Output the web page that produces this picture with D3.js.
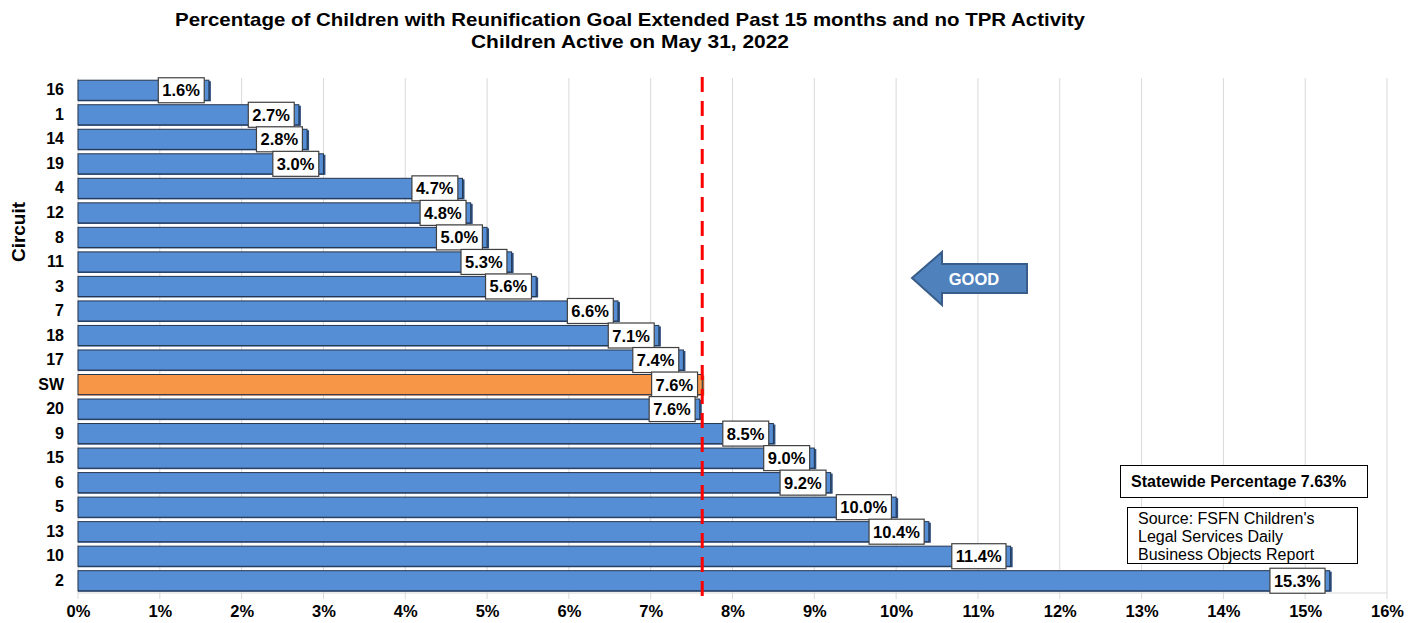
<!DOCTYPE html>
<html>
<head>
<meta charset="utf-8">
<script src="https://cdn.jsdelivr.net/npm/d3@7"></script>
<style>
  html, body { margin: 0; padding: 0; background: #fff; }
  svg { display: block; font-family: Arial, "Liberation Sans", sans-serif; }
</style>
</head>
<body>
<svg id="chart" width="1419" height="623"></svg>
<script>
// Circuits, top to bottom
const circuits = ["16", "1", "14", "19", "4", "12", "8", "11", "3", "7", "18", "17", "SW", "20", "9", "15", "6", "5", "13", "10", "2"];
// Percentage of children per circuit
const percents = [1.6, 2.7, 2.8, 3.0, 4.7, 4.8, 5.0, 5.3, 5.6, 6.6, 7.1, 7.4, 7.63, 7.6, 8.5, 9.0, 9.2, 10.0, 10.4, 11.4, 15.3];
const statewide = 7.63;
const xTicks = [0, 1, 2, 3, 4, 5, 6, 7, 8, 9, 10, 11, 12, 13, 14, 15, 16];
const titleLines = [
  "Percentage of Children with Reunification Goal Extended Past 15 months and no TPR Activity",
  "Children Active on May 31, 2022"
];
const titleWidths = [910, 318];
const sourceLines = ["Source: FSFN Children's", "Legal Services Daily", "Business Objects Report"];

const svg = d3.select("#chart");
const m = { left: 78, right: 1387, top: 78, bottom: 593 };

const x = d3.scaleLinear().domain([0, 16]).range([m.left, m.right]);
const y = d3.scaleBand().domain(circuits).range([m.top, m.bottom]).paddingInner(0.18).paddingOuter(0.09);

// Title (narrow, tightly set bold type)
svg.append("g").selectAll("text").data(titleLines).join("text")
  .attr("x", 630).attr("y", (d, i) => 26 + i * 22)
  .attr("text-anchor", "middle")
  .attr("font-size", 18.5).attr("font-weight", "bold")
  .attr("textLength", (d, i) => titleWidths[i])
  .attr("lengthAdjust", "spacingAndGlyphs")
  .text(d => d);

// Vertical gridlines
svg.append("g").selectAll("line").data(xTicks).join("line")
  .attr("x1", d => x(d)).attr("x2", d => x(d))
  .attr("y1", m.top).attr("y2", m.bottom + 6)
  .attr("stroke", "#d9d9d9").attr("stroke-width", 1);

// Bottom axis line
svg.append("line")
  .attr("x1", m.left).attr("x2", m.right)
  .attr("y1", m.bottom).attr("y2", m.bottom)
  .attr("stroke", "#d9d9d9");

// X tick labels
const xAxis = d3.axisBottom(x).tickValues(xTicks).tickFormat(d => d + "%").tickSize(0).tickPadding(12);
const gx = svg.append("g").attr("transform", `translate(0,${m.bottom})`).call(xAxis);
gx.select(".domain").remove();
gx.selectAll("text").attr("font-size", 16.5).attr("font-weight", "bold").attr("fill", "#000")
  .attr("font-family", "Arial, 'Liberation Sans', sans-serif");

// Y tick labels
const yAxis = d3.axisLeft(y).tickSize(0).tickPadding(14);
const gy = svg.append("g").attr("transform", `translate(${m.left},0)`).call(yAxis);
gy.select(".domain").remove();
gy.selectAll("text").attr("font-size", 16).attr("font-weight", "bold").attr("fill", "#000")
  .attr("font-family", "Arial, 'Liberation Sans', sans-serif");

// Y axis title
svg.append("text")
  .attr("transform", "translate(25,232) rotate(-90)")
  .attr("text-anchor", "middle")
  .attr("font-size", 19).attr("font-weight", "bold")
  .text("Circuit");

// Bars: darker depth edge behind, then face
const rows = circuits.map((c, i) => ({ c, v: percents[i] }));
const bars = svg.append("g");
bars.selectAll("rect.depth").data(rows).join("rect").attr("class", "depth")
  .attr("x", m.left).attr("y", d => y(d.c) + 1)
  .attr("width", d => x(d.v) - m.left + 2)
  .attr("height", y.bandwidth())
  .attr("fill", d => d.c === "SW" ? "#b8642a" : "#2d4f80");
bars.selectAll("rect.face").data(rows).join("rect").attr("class", "face")
  .attr("x", m.left).attr("y", d => y(d.c))
  .attr("width", d => x(d.v) - m.left)
  .attr("height", y.bandwidth())
  .attr("fill", d => d.c === "SW" ? "#f79646" : "#558ed5")
  .attr("stroke", "#26364f").attr("stroke-width", 1);

// Statewide reference line
svg.append("line")
  .attr("x1", x(statewide)).attr("x2", x(statewide))
  .attr("y1", 77).attr("y2", 604)
  .attr("stroke", "#ff0000").attr("stroke-width", 3)
  .attr("stroke-dasharray", "15,9");

// Value labels
const fmt = d => d3.format(".1f")(d) + "%";
const lab = svg.append("g").selectAll("g").data(rows).join("g");
lab.each(function(d) {
  const g = d3.select(this);
  const t = g.append("text")
    .attr("font-size", 16.5).attr("font-weight", "bold")
    .attr("text-anchor", "end")
    .attr("x", x(d.v) - 9)
    .attr("y", y(d.c) + y.bandwidth() / 2 + 6)
    .text(fmt(d.v));
  const bb = t.node().getBBox();
  g.insert("rect", "text")
    .attr("x", bb.x - 4).attr("y", y(d.c) + y.bandwidth() / 2 - 12.5)
    .attr("width", bb.width + 8).attr("height", 25)
    .attr("fill", "#fff").attr("stroke", "#404040").attr("stroke-width", 1.2);
});

// "GOOD" arrow pointing left
const arrow = svg.append("g");
arrow.append("path")
  .attr("d", "M912,278 L942,252 L942,264 L1027,264 L1027,293 L942,293 L942,305 Z")
  .attr("fill", "#4f81bd").attr("stroke", "#385d8a").attr("stroke-width", 2);
arrow.append("text")
  .attr("x", 974).attr("y", 284.5).attr("text-anchor", "middle")
  .attr("font-size", 16.5).attr("font-weight", "bold").attr("fill", "#fff")
  .text("GOOD");

// Statewide percentage box
svg.append("rect").attr("x", 1120.5).attr("y", 465.5).attr("width", 247).attr("height", 32)
  .attr("fill", "#fff").attr("stroke", "#000").attr("stroke-width", 1);
svg.append("text").attr("x", 1131).attr("y", 487)
  .attr("font-size", 16).attr("font-weight", "bold")
  .text("Statewide Percentage " + d3.format(".2f")(statewide) + "%");

// Source box
svg.append("rect").attr("x", 1127.5).attr("y", 507.5).attr("width", 230).attr("height", 56)
  .attr("fill", "#fff").attr("stroke", "#000").attr("stroke-width", 1);
svg.append("g").selectAll("text").data(sourceLines).join("text")
  .attr("x", 1138).attr("y", (d, i) => 524 + i * 18)
  .attr("font-size", 16).attr("fill", "#000")
  .text(d => d);
</script>
</body>
</html>
